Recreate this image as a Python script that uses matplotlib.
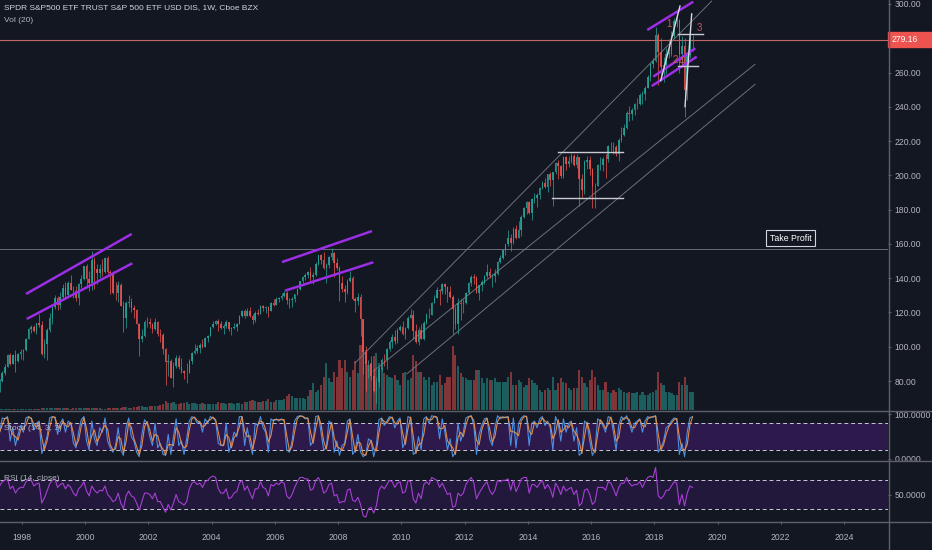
import numpy as np
import matplotlib.pyplot as plt
import matplotlib.transforms as mtransforms
from matplotlib.patches import Rectangle
from matplotlib.lines import Line2D

plt.rcParams['font.family'] = ['Liberation Sans', 'DejaVu Sans']

# SPY, bougies mensuelles (avril 1997 -> mars 2019)
first_open = 75.9
close = [
    80.2, 84.8, 88.4, 95.3, 90.2, 94.9, 91.8, 95.8, 97.0,                       # 1997
    98.0, 104.8, 110.1, 111.5, 109.3, 113.7, 112.4, 95.9, 101.8, 110.0, 116.5, 123.3,
    128.6, 124.4, 129.1, 134.0, 130.4, 137.4, 133.1, 132.4, 128.4, 136.6, 139.6, 146.9,
    139.6, 137.4, 150.4, 145.1, 142.8, 145.3, 143.6, 152.0, 143.6, 143.0, 131.5, 131.2,
    136.0, 124.0, 116.7, 125.7, 126.2, 122.7, 121.3, 113.5, 104.4, 106.0, 114.3, 114.3,
    113.1, 110.4, 114.5, 107.5, 106.7, 98.9, 91.2, 91.6, 81.8, 88.5, 93.7, 88.2,
    85.9, 84.7, 84.7, 91.6, 96.5, 97.6, 99.3, 101.1, 100.0, 105.2, 106.4, 111.3,
    113.1, 114.8, 113.1, 110.8, 112.1, 114.5, 110.6, 111.1, 111.8, 113.5, 118.0, 120.9,
    118.2, 120.6, 118.0, 115.8, 119.5, 119.2, 123.5, 122.4, 123.0, 121.0, 125.4, 124.5,
    128.0, 128.3, 129.8, 131.5, 127.5, 127.3, 128.0, 130.9, 133.6, 138.1, 140.5, 141.6,
    143.8, 140.9, 142.0, 148.3, 153.3, 150.4, 145.7, 147.6, 152.6, 154.7, 148.7, 146.2,
    137.4, 133.8, 131.9, 138.3, 140.1, 127.9, 126.8, 128.8, 116.0, 96.8, 89.9, 90.2,
    82.8, 73.9, 79.5, 87.0, 92.5, 92.0, 98.8, 102.5, 105.6, 103.6, 109.9, 111.4,
    107.4, 110.7, 117.0, 118.8, 109.4, 102.9, 110.0, 104.6, 114.1, 118.5, 118.5, 125.8,
    128.7, 133.2, 132.6, 136.5, 134.9, 132.0, 129.3, 121.9, 113.2, 125.5, 124.9, 125.5,
    131.3, 137.0, 140.8, 139.9, 131.5, 136.1, 137.7, 141.2, 143.9, 141.4, 141.5, 142.4,
    149.7, 151.6, 156.7, 159.7, 163.4, 160.4, 168.7, 163.7, 168.0, 175.8, 181.0, 184.7,
    178.2, 186.3, 187.0, 188.3, 192.7, 195.7, 193.1, 200.7, 197.0, 201.7, 207.2, 205.5,
    199.5, 210.7, 206.4, 208.5, 211.1, 205.9, 210.5, 197.7, 191.6, 207.9, 208.7, 203.9,
    193.7, 193.6, 206.0, 206.3, 209.8, 209.5, 217.1, 217.4, 216.3, 212.6, 220.4, 223.5,
    227.5, 236.5, 235.7, 238.1, 241.4, 241.8, 246.8, 247.5, 251.2, 257.2, 265.0, 266.9,
    281.9, 271.7, 263.2, 264.5, 270.9, 271.3, 281.3, 290.3, 290.7, 270.6, 275.7, 249.9,
    270.0, 278.7, 279.16,                                                         # 2019
]
high = [
    80.9, 85.9, 89.8, 95.8, 96.1, 96.0, 98.0, 96.5, 98.7,
    98.8, 105.3, 111.1, 112.8, 112.9, 114.0, 119.1, 114.9, 104.7, 110.9, 119.5, 123.9,
    130.1, 129.5, 132.0, 136.6, 137.7, 138.3, 142.0, 135.5, 135.4, 137.3, 142.0, 147.0,
    148.3, 144.3, 155.8, 152.3, 148.5, 148.0, 151.3, 152.6, 153.0, 144.5, 144.0, 137.9,
    138.2, 137.3, 126.8, 126.9, 130.0, 128.6, 124.4, 122.3, 113.6, 110.5, 115.7, 117.6,
    117.0, 114.1, 116.5, 115.2, 110.5, 107.8, 99.4, 96.0, 92.8, 91.3, 95.4, 95.0,
    93.4, 86.6, 90.5, 92.6, 97.2, 101.4, 101.1, 101.9, 104.4, 105.9, 107.1, 111.6,
    115.2, 115.8, 116.3, 115.3, 113.0, 115.4, 114.7, 111.8, 113.7, 114.0, 118.8, 121.6,
    121.8, 122.5, 123.3, 119.0, 120.7, 122.1, 124.2, 124.3, 123.9, 123.8, 126.1, 127.9,
    129.2, 129.2, 131.6, 132.6, 132.8, 128.5, 128.8, 131.0, 134.0, 138.5, 141.4, 143.0,
    144.0, 146.4, 143.5, 149.4, 153.7, 154.4, 155.5, 148.8, 153.1, 157.5, 155.0, 151.7,
    146.9, 141.0, 135.9, 139.8, 144.3, 141.4, 128.9, 131.6, 130.6, 116.3, 100.5, 92.3,
    94.5, 87.8, 82.6, 88.2, 93.2, 95.9, 99.0, 104.0, 107.3, 110.0, 111.0, 112.6,
    115.1, 111.6, 117.9, 122.1, 121.3, 113.0, 111.5, 113.0, 115.0, 119.4, 122.8, 126.2,
    130.4, 134.7, 133.9, 137.2, 137.2, 135.2, 135.7, 130.0, 124.0, 128.5, 128.0, 127.6,
    132.0, 137.5, 141.8, 142.2, 141.4, 136.3, 139.1, 142.0, 148.1, 146.0, 142.2, 145.6,
    150.2, 153.3, 156.9, 160.0, 168.4, 165.8, 170.0, 170.9, 173.6, 176.9, 181.8, 185.0,
    184.9, 186.9, 189.7, 189.7, 193.2, 196.5, 198.3, 201.0, 201.9, 202.0, 207.8, 209.0,
    206.1, 211.3, 211.2, 211.5, 213.0, 212.5, 212.3, 210.8, 200.7, 208.9, 211.0, 211.0,
    204.2, 195.5, 206.9, 210.9, 210.7, 212.5, 217.5, 219.6, 219.2, 217.5, 221.5, 228.3,
    229.7, 237.3, 240.3, 239.5, 242.1, 245.0, 248.0, 249.0, 252.0, 258.4, 265.5, 268.6,
    286.6, 283.1, 280.4, 269.1, 274.3, 279.5, 284.4, 291.7, 293.9, 291.4, 281.2, 280.4,
    270.5, 280.6, 282.0,
]
low = [
    73.6, 79.6, 83.6, 88.0, 89.4, 90.0, 85.5, 90.9, 92.9,
    92.4, 97.8, 104.4, 108.3, 108.5, 107.7, 111.4, 95.4, 93.5, 92.1, 108.8, 113.3,
    122.0, 121.3, 122.2, 127.4, 128.1, 128.8, 133.0, 128.2, 126.5, 124.6, 134.2, 139.2,
    134.0, 132.6, 133.4, 133.5, 136.5, 140.0, 141.0, 143.3, 142.5, 130.8, 131.0, 127.2,
    126.3, 123.7, 108.5, 111.1, 123.1, 120.2, 116.8, 113.0, 94.5, 102.9, 105.4, 111.5,
    110.7, 107.9, 109.6, 106.5, 103.0, 95.9, 77.7, 83.2, 81.5, 76.5, 87.5, 87.0,
    84.7, 80.9, 79.0, 84.7, 90.0, 95.8, 96.3, 96.1, 99.1, 99.7, 102.9, 106.3,
    110.7, 112.6, 108.9, 110.2, 107.3, 111.0, 109.3, 106.6, 110.2, 109.0, 113.3, 117.6,
    116.7, 117.9, 117.2, 113.5, 114.7, 118.5, 119.0, 121.1, 119.6, 117.6, 120.6, 124.0,
    124.4, 125.9, 127.5, 128.8, 125.2, 122.4, 123.3, 126.1, 130.1, 133.3, 137.2, 139.1,
    140.0, 138.5, 136.8, 141.4, 147.8, 148.4, 145.3, 137.0, 145.7, 150.8, 140.9, 144.8,
    126.9, 131.9, 126.0, 131.0, 137.7, 127.4, 120.1, 124.5, 106.1, 83.9, 74.3, 81.9,
    80.6, 73.6, 67.1, 76.4, 86.0, 89.0, 86.9, 97.5, 99.4, 101.8, 102.3, 109.0,
    107.1, 104.6, 110.6, 116.5, 104.4, 102.4, 101.1, 104.5, 104.1, 113.2, 117.0, 118.3,
    125.3, 128.3, 124.5, 131.0, 131.0, 126.1, 128.7, 107.4, 110.3, 107.4, 115.5, 119.4,
    125.2, 131.0, 135.2, 136.4, 131.3, 127.1, 132.5, 136.5, 140.4, 140.3, 134.7, 138.0,
    142.0, 148.7, 151.0, 153.6, 158.6, 155.9, 160.1, 163.0, 163.2, 164.5, 175.2, 177.3,
    177.4, 173.7, 183.7, 181.3, 186.0, 192.0, 192.7, 190.5, 193.8, 181.9, 201.0, 197.9,
    198.6, 198.5, 203.3, 205.0, 207.0, 205.3, 204.1, 182.4, 187.2, 189.1, 203.8, 200.0,
    181.0, 181.1, 193.5, 203.1, 202.8, 198.7, 207.6, 214.2, 212.5, 211.2, 208.4, 219.2,
    222.7, 227.0, 231.6, 232.5, 235.4, 238.6, 240.8, 241.9, 244.0, 251.2, 255.3, 262.8,
    266.0, 252.9, 257.8, 254.7, 259.1, 268.5, 269.4, 280.1, 286.7, 259.9, 263.0, 233.8,
    243.7, 268.6, 272.8,
]
volume = [
    3, 3, 3, 4, 5, 5, 8, 6, 6,
    7, 7, 7, 7, 7, 8, 8, 12, 13, 13, 9, 9,
    10, 9, 9, 9, 9, 9, 8, 9, 9, 10, 9, 9,
    10, 10, 12, 10, 10, 9, 8, 8, 9, 12, 11, 12,
    12, 13, 18, 16, 14, 14, 15, 16, 26, 22, 20, 19,
    22, 25, 22, 25, 28, 35, 55, 42, 40, 50, 38, 35,
    40, 42, 48, 38, 40, 40, 38, 34, 40, 36, 34, 33,
    38, 38, 45, 40, 42, 36, 40, 40, 36, 42, 40, 38,
    45, 48, 55, 60, 55, 50, 45, 52, 55, 65, 50, 48,
    60, 58, 62, 65, 85, 95, 85, 70, 72, 70, 72, 65,
    85, 120, 160, 110, 120, 150, 200, 280, 190, 170, 230, 200,
    300, 250, 300, 230, 200, 240, 290, 220, 390, 450, 360, 270,
    280, 320, 340, 280, 250, 220, 210, 200, 190, 210, 180, 150,
    220, 230, 180, 190, 330, 290, 230, 230, 200, 180, 200, 150,
    170, 170, 210, 150, 160, 200, 200, 380, 330, 260, 220, 200,
    190, 180, 180, 180, 240, 240, 190, 160, 190, 180, 180, 190,
    170, 170, 170, 170, 200, 230, 150, 150, 180, 170, 140, 150,
    190, 180, 160, 150, 120, 110, 120, 130, 120, 200, 120, 160,
    190, 170, 160, 130, 120, 130, 130, 240, 200, 160, 140, 180,
    240, 200, 150, 120, 120, 170, 110, 100, 120, 110, 130, 120,
    110, 100, 110, 100, 100, 110, 90, 110, 90, 90, 100, 110,
    120, 230, 160, 150, 110, 110, 100, 90, 90, 170, 150, 200,
    150, 110, 110,
]
stoch_k = [
    60, 92, 90, 95, 40, 70, 30, 55, 75,
    60, 92, 95, 90, 65, 80, 85, 12, 30, 50, 92, 95,
    93, 55, 80, 90, 60, 85, 80, 35, 25, 60, 88, 95,
    40, 20, 85, 45, 30, 70, 60, 92, 40, 25, 15, 30,
    70, 20, 8, 70, 92, 50, 40, 15, 5, 55, 88, 80,
    50, 30, 80, 25, 35, 10, 8, 55, 10, 50, 90, 30,
    40, 10, 45, 85, 95, 92, 80, 85, 60, 90, 80, 95,
    92, 85, 35, 30, 30, 80, 15, 35, 60, 50, 95, 95,
    30, 70, 35, 10, 80, 75, 95, 70, 60, 15, 90, 85,
    90, 85, 90, 85, 20, 15, 40, 85, 95, 97, 95, 90,
    92, 30, 40, 95, 97, 60, 20, 25, 85, 80, 15, 40,
    8, 30, 35, 85, 90, 10, 20, 55, 15, 5, 10, 45,
    40, 5, 30, 88, 92, 75, 85, 95, 92, 70, 85, 92,
    25, 40, 95, 92, 10, 15, 50, 20, 90, 95, 80, 97,
    95, 92, 45, 90, 60, 20, 45, 5, 15, 80, 40, 60,
    92, 95, 97, 75, 10, 55, 75, 90, 92, 45, 30, 70,
    97, 90, 95, 92, 95, 30, 92, 25, 80, 92, 97, 95,
    30, 80, 85, 70, 90, 95, 75, 85, 70, 20, 95, 80,
    40, 90, 60, 80, 85, 40, 70, 8, 15, 85, 80, 40,
    8, 20, 90, 85, 75, 60, 95, 92, 60, 20, 75, 95,
    88, 97, 80, 60, 80, 85, 90, 60, 85, 95, 92, 95,
    97, 15, 25, 40, 70, 75, 85, 92, 90, 10, 35, 5,
    60, 92, 95,
]
stoch_d = [
    60, 76, 91, 92, 68, 55, 50, 42, 65,
    68, 76, 94, 92, 78, 72, 82, 48, 21, 40, 71, 94,
    94, 74, 68, 85, 75, 72, 82, 58, 30, 42, 74, 92,
    68, 30, 52, 65, 38, 50, 65, 76, 66, 32, 20, 22,
    50, 45, 14, 39, 81, 71, 45, 28, 10, 30, 72, 84,
    65, 40, 55, 52, 30, 22, 9, 32, 32, 30, 70, 60,
    35, 25, 28, 65, 90, 94, 86, 82, 72, 75, 85, 88,
    94, 88, 60, 32, 30, 55, 48, 25, 48, 55, 72, 95,
    62, 50, 52, 22, 45, 78, 85, 82, 65, 38, 52, 88,
    88, 88, 88, 88, 52, 18, 28, 62, 90, 96, 96, 92,
    91, 61, 35, 68, 96, 78, 40, 22, 55, 82, 48, 28,
    24, 19, 32, 60, 88, 50, 15, 38, 35, 10, 8, 28,
    42, 22, 18, 59, 90, 84, 80, 90, 94, 81, 78, 88,
    58, 32, 68, 94, 51, 12, 32, 35, 55, 92, 88, 88,
    96, 94, 68, 68, 75, 40, 32, 25, 10, 48, 60, 50,
    76, 94, 96, 86, 42, 32, 65, 82, 91, 68, 38, 50,
    84, 94, 92, 94, 94, 62, 61, 58, 52, 86, 94, 96,
    62, 55, 82, 78, 80, 92, 85, 80, 78, 45, 58, 88,
    60, 65, 75, 70, 82, 62, 55, 39, 12, 50, 82, 60,
    24, 14, 55, 88, 80, 68, 78, 94, 76, 40, 48, 85,
    92, 92, 88, 70, 70, 82, 88, 75, 72, 90, 94, 94,
    96, 56, 20, 32, 55, 72, 80, 88, 91, 50, 22, 20,
    32, 76, 94,
]
rsi = [
    62, 68, 70, 72, 58, 62, 52, 58, 60,
    60, 68, 72, 70, 62, 65, 66, 38, 45, 55, 65, 70,
    72, 60, 64, 66, 58, 64, 60, 52, 48, 58, 62, 68,
    55, 48, 62, 56, 52, 56, 55, 62, 50, 46, 40, 42,
    52, 38, 30, 48, 55, 48, 46, 38, 28, 40, 52, 52,
    50, 44, 52, 40, 40, 32, 25, 36, 28, 38, 50, 40,
    38, 35, 40, 58, 66, 68, 64, 66, 60, 68, 70, 74,
    76, 74, 58, 52, 52, 58, 44, 46, 52, 54, 66, 70,
    56, 62, 52, 44, 58, 58, 68, 60, 58, 48, 64, 62,
    66, 64, 68, 66, 48, 44, 50, 60, 68, 74, 74, 72,
    72, 56, 58, 70, 74, 66, 52, 55, 64, 66, 48, 50,
    38, 40, 40, 56, 58, 42, 40, 46, 36, 20, 18, 30,
    32, 24, 34, 56, 62, 58, 64, 70, 68, 60, 66, 68,
    52, 54, 70, 68, 44, 38, 52, 44, 64, 68, 64, 74,
    72, 70, 60, 66, 58, 50, 52, 32, 34, 52, 48, 52,
    64, 70, 74, 66, 44, 52, 58, 64, 68, 56, 50, 56,
    70, 68, 70, 70, 72, 56, 70, 54, 62, 72, 74, 74,
    52, 64, 64, 60, 66, 70, 58, 64, 58, 46, 66, 60,
    50, 62, 55, 58, 60, 50, 56, 34, 38, 56, 58, 50,
    36, 40, 60, 60, 60, 56, 68, 66, 58, 48, 60, 66,
    66, 74, 66, 62, 64, 64, 68, 60, 68, 74, 76, 74,
    88, 48, 44, 48, 56, 56, 62, 68, 66, 36, 50, 34,
    52, 62, 60,
]

# dessins (année, prix)
purple_lines = [
    [(1998.127, 130.8), (2001.470, 165.8)],
    [(1998.149, 116.2), (2001.489, 148.7)],
    [(2006.224, 149.4), (2009.071, 167.5)],
    [(2006.319, 132.7), (2009.112, 149.3)],
    [(2017.778, 284.8), (2019.233, 301.3)],
    [(2017.918, 252.1), (2019.342, 269.2)],
    [(2017.969, 257.6), (2019.297, 274.1)],
]
channel_lines = [
    [(2008.533, 90.5), (2019.815, 301.7)],
    [(2009.112, 85.7), (2021.185, 264.8)],
    [(2010.168, 84.1), (2021.185, 253.1)],
]
levels = [(2014.964, 2017.020, 213.8), (2014.755, 2017.020, 186.6),
          (2018.759, 2019.550, 282.3), (2018.759, 2019.391, 264.0)]
wave_lines = [[(2018.203, 255.2), (2018.813, 298.8)],
              [(2018.971, 240.1), (2019.183, 294.2)]]
wave_labels = [('1', 2018.466, 288.3), ('2', 2018.656, 267.3),
               ('4', 2018.845, 266.2), ('3', 2019.424, 285.8)]
old_top = 156.9
last_price = 279.16
years = list(range(1998, 2025, 2))

BG = '#131722'
TXT = '#b2b5be'
SEP = '#5d606b'
UP, DOWN = '#26a69a', '#ef5350'
BAND = '#6a1fb0'
W, H = 932, 550
XMIN, XMAX = 1997.304, 2025.392


def rect(x0, y0, x1, y1):
    return [x0 / W, 1 - y1 / H, (x1 - x0) / W, (y1 - y0) / H]


n = len(close)
t = np.array([1997 + (3 + i + 0.5) / 12 for i in range(n)])
c = np.array(close)
o = np.array([first_open] + close[:-1])
up = c >= o
col = np.where(up, UP, DOWN)

fig = plt.figure(figsize=(W / 100, H / 100), dpi=100, facecolor=BG)
ax_vol = fig.add_axes(rect(0, 0, 888, 410))
ax = fig.add_axes(rect(0, 0, 888, 410))
ax_st = fig.add_axes(rect(0, 411, 888, 460))
ax_rsi = fig.add_axes(rect(0, 461, 888, 521))

for a in (ax_vol, ax, ax_st, ax_rsi):
    a.set_xlim(XMIN, XMAX)
    for s in a.spines.values():
        s.set_visible(False)
    a.set_facecolor(BG)
    a.tick_params(axis='x', bottom=False, labelbottom=False)
ax.set_facecolor('none')

# volume
ax_vol.bar(t, volume, width=0.068, color=col, alpha=0.5, linewidth=0)
ax_vol.set_ylim(0, 2450)
ax_vol.set_yticks([])

# prix
ax.set_ylim(63.1, 302.3)
ax.axhline(old_top, color='#787b86', lw=0.6, zorder=1)
ax.axhline(last_price, color='#e57373', lw=0.8, alpha=0.85, zorder=1)
for line in channel_lines:
    xs, ys = zip(*line)
    ax.plot(xs, ys, color='#6b6f7a', lw=0.7, zorder=1)
ax.vlines(t, low, high, colors=col, lw=0.6, alpha=0.85, zorder=2)
ax.bar(t, np.abs(c - o), bottom=np.minimum(o, c), width=0.05, color=col,
       alpha=0.85, linewidth=0, zorder=2)
for line in purple_lines:
    xs, ys = zip(*line)
    ax.plot(xs, ys, color='#9c2ee6', lw=1.8, solid_capstyle='butt', zorder=3)
for x0, x1, p in levels:
    ax.plot([x0, x1], [p, p], color='#c8cad0', lw=1.0, zorder=3)
for line in wave_lines:
    xs, ys = zip(*line)
    ax.plot(xs, ys, color='#d6d8de', lw=1.0, zorder=3)
for txt, x, y in wave_labels:
    ax.text(x, y, txt, color='#c65a5a', fontsize=7, ha='center', va='center', zorder=4)
ax.text(2022.31, 163.4, 'Take Profit', color='white', fontsize=6.3, ha='center',
        va='center', bbox=dict(boxstyle='square,pad=0.4', fc=BG, ec='#d1d4dc', lw=0.8))

ax.yaxis.tick_right()
ax.set_yticks([80, 100, 120, 140, 160, 180, 200, 220, 240, 260, 300])
ax.set_yticklabels(['%.2f' % v for v in ax.get_yticks()])
ax.tick_params(axis='y', colors=SEP, labelcolor=TXT, labelsize=6.2, length=2.5, pad=2)

trans = mtransforms.blended_transform_factory(ax.transAxes, ax.transData)
ax.add_patch(Rectangle((1.0, last_price - 4.4), 0.05, 8.8, transform=trans,
                       color='#ef5350', clip_on=False, zorder=5))
ax.text(1.0045, last_price, '%.2f' % last_price, transform=trans, color='white',
        fontsize=6.2, va='center', ha='left', clip_on=False, zorder=6)

# stochastique
ax_st.set_ylim(-2.5, 107.6)
ax_st.axhspan(20, 80, color=BAND, alpha=0.3, lw=0)
for lv in (80, 20):
    ax_st.axhline(lv, color='#c8c8d8', lw=0.7, ls=(0, (4, 3)))
ax_st.plot(t, stoch_k, color='#4a90e2', lw=0.8)
ax_st.plot(t, stoch_d, color='#f0954a', lw=0.8, alpha=0.9)
ax_st.yaxis.tick_right()
ax_st.set_yticks([0, 100])
ax_st.set_yticklabels(['0.0000', '100.0000'])
ax_st.tick_params(axis='y', colors=SEP, labelcolor=TXT, labelsize=6.2, length=2.5, pad=2)

# RSI
ax_rsi.set_ylim(12.7, 97.2)
ax_rsi.axhspan(30, 70, color=BAND, alpha=0.18, lw=0)
for lv in (70, 30):
    ax_rsi.axhline(lv, color='#c8c8d8', lw=0.7, ls=(0, (4, 3)))
ax_rsi.plot(t, rsi, color='#a63fd4', lw=0.8)
ax_rsi.yaxis.tick_right()
ax_rsi.set_yticks([50])
ax_rsi.set_yticklabels(['50.0000'])
ax_rsi.tick_params(axis='y', colors=SEP, labelcolor=TXT, labelsize=6.2, length=2.5, pad=2)
ax_rsi.set_xticks(years)
ax_rsi.set_xticklabels([str(y) for y in years])
ax_rsi.tick_params(axis='x', bottom=True, labelbottom=True, colors=SEP,
                   labelcolor=TXT, labelsize=6.2, length=2.5, pad=6)

# séparateurs
for yy in (410.5, 460.5, 521.5):
    fig.add_artist(Line2D([0, 1], [1 - yy / H] * 2, color=SEP, lw=1))
fig.add_artist(Line2D([888.5 / W] * 2, [0, 1], color=SEP, lw=1))

fig.text(4 / W, 1 - 8 / H, 'SPDR S&P500 ETF TRUST S&P 500 ETF USD DIS, 1W, Cboe BZX',
         color='#d1d4dc', fontsize=6.0, va='center')
fig.text(4 / W, 1 - 20 / H, 'Vol (20)', color=TXT, fontsize=6.0, va='center')
fig.text(4 / W, 1 - 428 / H, 'Stoch (14, 3, 3)', color=TXT, fontsize=6.0, va='center')
fig.text(4 / W, 1 - 479 / H, 'RSI (14, close)', color=TXT, fontsize=6.0, va='center')

fig.savefig('out.png', dpi=100, facecolor=BG)
